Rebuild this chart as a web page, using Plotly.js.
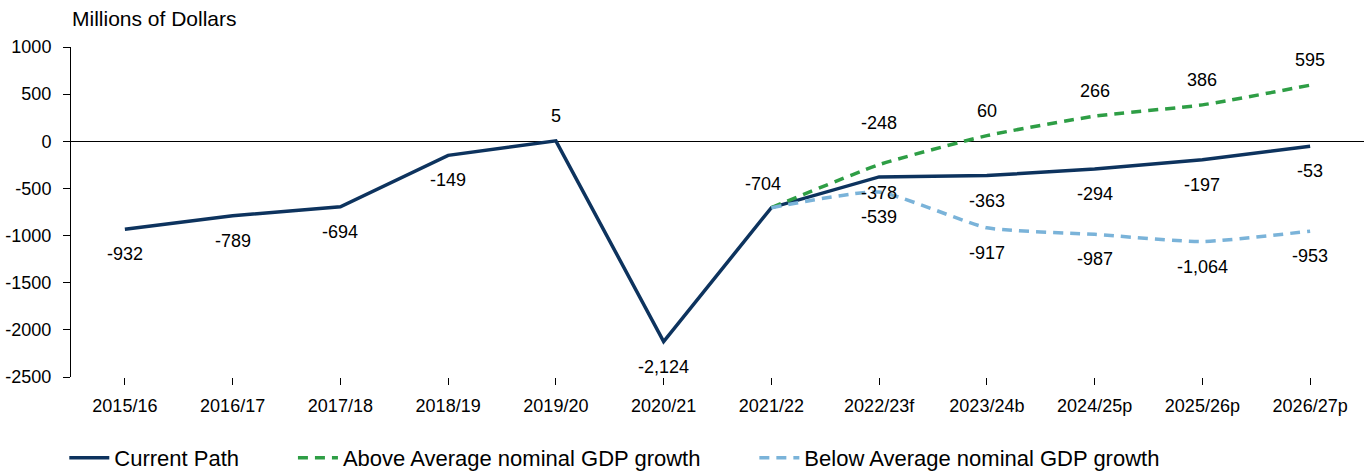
<!DOCTYPE html>
<html>
<head>
<meta charset="utf-8">
<script src="https://cdn.plot.ly/plotly-3.0.1.min.js"></script>
<style>
  html, body { margin: 0; padding: 0; background: #fff; }
  #chart { width: 1368px; height: 472px; }
</style>
</head>
<body>
<div id="chart"></div>
<script>
// fiscal years on the x axis
const years = ['2015/16', '2016/17', '2017/18', '2018/19', '2019/20', '2020/21',
               '2021/22', '2022/23f', '2023/24b', '2024/25p', '2025/26p', '2026/27p'];

// balance, millions of dollars
const currentPath = [-932, -789, -694, -149, 5, -2124, -704, -378, -363, -294, -197, -53];
const aboveAverage = [null, null, null, null, null, null, -704, -248, 60, 266, 386, 595];
const belowAverage = [null, null, null, null, null, null, -704, -539, -917, -987, -1064, -953];

// y axis ticks
const yTicks = [-2500, -2000, -1500, -1000, -500, 0, 500, 1000];

// where each value label sits relative to its point
const currentLabelPos = ['below', 'below', 'below', 'below', 'above', 'below',
                         'aboveLeft', 'belowNear', 'below', 'below', 'below', 'below'];
const aboveLabelPos = ['', '', '', '', '', '', '', 'high', 'above', 'above', 'above', 'above'];
const belowLabelPos = ['', '', '', '', '', '', '', 'below', 'below', 'below', 'below', 'below'];

const NAVY = '#0d335e';
const GREEN = '#2e9e45';
const LIGHT_BLUE = '#7ab3d9';
const FONT = 'Liberation Sans, Arial, sans-serif';
const NB = '\u00A0';

function labelsFor(values, positions) {
    const out = [];
    values.forEach((v, i) => {
        const pos = positions[i];
        if (v === null || !pos) return;
        let yshift = -25, xshift = 0;
        if (pos === 'above') yshift = 25;
        if (pos === 'high') yshift = 42;
        if (pos === 'belowNear') yshift = -16;
        if (pos === 'aboveLeft') { yshift = 24; xshift = -8; }
        out.push({
            x: years[i], y: v, xref: 'x', yref: 'y',
            text: v.toLocaleString('en-US'),
            showarrow: false,
            xanchor: 'center', yanchor: 'middle',
            xshift: xshift, yshift: yshift,
            font: { family: FONT, size: 18, color: '#000' }
        });
    });
    return out;
}

const traces = [
    {
        x: years, y: currentPath,
        type: 'scatter', mode: 'lines',
        name: 'Current Path' + NB.repeat(8),
        line: { color: NAVY, width: 3.5 },
        hoverinfo: 'skip'
    },
    {
        x: years, y: aboveAverage,
        type: 'scatter', mode: 'lines',
        name: 'Above Average nominal GDP growth' + NB.repeat(8),
        line: { color: GREEN, width: 3.5, dash: '10px,7px', shape: 'spline', smoothing: 0.5 },
        hoverinfo: 'skip'
    },
    {
        x: years, y: belowAverage,
        type: 'scatter', mode: 'lines',
        name: 'Below Average nominal GDP growth',
        line: { color: LIGHT_BLUE, width: 3.5, dash: '10px,7px', shape: 'spline', smoothing: 0.5 },
        hoverinfo: 'skip'
    }
];

const annotations = [].concat(
    labelsFor(currentPath, currentLabelPos),
    labelsFor(aboveAverage, aboveLabelPos),
    labelsFor(belowAverage, belowLabelPos),
    [{
        xref: 'paper', yref: 'paper', x: 0, y: 1,
        xanchor: 'left', yanchor: 'middle', xshift: -1, yshift: 29,
        text: 'Millions of Dollars', showarrow: false,
        font: { family: FONT, size: 21, color: '#000' }
    }]
);

const layout = {
    width: 1368,
    height: 472,
    margin: { l: 71, r: 4, t: 47, b: 95 },
    paper_bgcolor: '#fff',
    plot_bgcolor: '#fff',
    font: { family: FONT, size: 18, color: '#000' },
    showlegend: true,
    legend: {
        orientation: 'h',
        xref: 'container', yref: 'container',
        x: 0.047, xanchor: 'left',
        y: 0.03, yanchor: 'middle',
        font: { family: FONT, size: 22, color: '#000' },
        itemwidth: 40
    },
    xaxis: {
        type: 'category',
        range: [-0.5, 11.5],
        automargin: false,
        showgrid: false,
        showline: false,
        zeroline: false,
        ticks: 'outside',
        ticklen: 7,
        tickcolor: '#000',
        tickwidth: 1,
        ticklabelstandoff: 5,
        tickfont: { family: FONT, size: 18, color: '#000' }
    },
    yaxis: {
        range: [-2500, 1000],
        automargin: false,
        tickmode: 'array',
        tickvals: yTicks,
        ticktext: yTicks.map(String),
        showgrid: false,
        showline: true,
        linecolor: '#000',
        linewidth: 1,
        zeroline: true,
        zerolinecolor: '#000',
        zerolinewidth: 1.5,
        ticks: 'outside',
        ticklen: 7,
        tickcolor: '#000',
        ticklabelstandoff: 8,
        tickfont: { family: FONT, size: 18, color: '#000' }
    },
    annotations: annotations
};

Plotly.newPlot('chart', traces, layout, { staticPlot: true, displayModeBar: false });
</script>
</body>
</html>
